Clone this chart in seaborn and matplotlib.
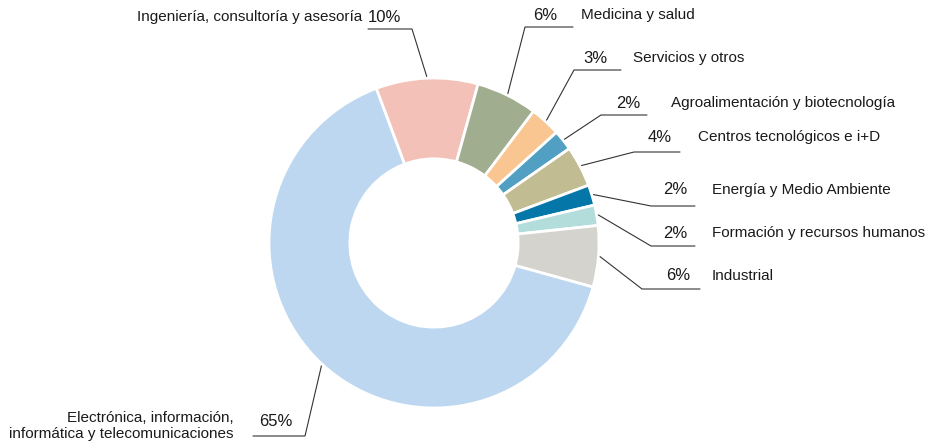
import matplotlib
matplotlib.use("Agg")
import numpy as np
import matplotlib.pyplot as plt
import seaborn as sns

# DATA
sectors = [
    "Ingeniería, consultoría y asesoría",
    "Medicina y salud",
    "Servicios y otros",
    "Agroalimentación y biotecnología",
    "Centros tecnológicos e i+D",
    "Energía y Medio Ambiente",
    "Formación y recursos humanos",
    "Industrial",
    "Electrónica, información,\ninformática y telecomunicaciones",
]
shares = [10, 6, 3, 2, 4, 2, 2, 6, 65]
pct_labels = ["10%", "6%", "3%", "2%", "4%", "2%", "2%", "6%", "65%"]

colors = ["#F4C1B8", "#A0AD8F", "#F9C591", "#51A0C4", "#C2BC92",
          "#0476A8", "#B3DDDB", "#D4D3CE", "#BDD7F0"]

# label layout (pixels): elbow x, elbow y, line end x, pct x, pct y, text x, text y
layout = [
    (412, 29, 368, 368, 17, 362, 17),
    (525, 27, 573, 557, 15, 581, 15),
    (574, 70, 621, 607, 58, 633, 58),
    (601, 115, 647, 640, 103, 671, 103),
    (634, 152, 680, 672, 137, 698, 137),
    (651, 206, 695, 687, 190, 712, 190),
    (651, 246, 695, 687, 233, 712, 233),
    (642, 289, 700, 690, 276, 712, 276),
    (305, 436, 253, 259, 422, 234, 426),
]

sns.set_theme(style="white")
plt.rcParams["font.family"] = ["Liberation Sans", "DejaVu Sans"]

W, H = 929, 447
cx, cy, R = 434, 243, 165


def to_data(x, y):
    return (x - cx) / R, (cy - y) / R


fig = plt.figure(figsize=(W / 100, H / 100), dpi=100)
ax = fig.add_axes([0, 0, 1, 1])

wedges, _ = ax.pie(shares, colors=colors, startangle=110.5, counterclock=False,
                   radius=1.0,
                   wedgeprops=dict(width=0.49, edgecolor="white", linewidth=2))

ax.set_xlim(-cx / R, (W - cx) / R)
ax.set_ylim((cy - H) / R, cy / R)
ax.set_aspect("equal")
ax.axis("off")

# leader lines + labels
for w, lab, pct, (ex, ey, lx, px, py, tx, ty) in zip(wedges, sectors, pct_labels, layout):
    mid = np.deg2rad((w.theta1 + w.theta2) / 2)
    sx, sy = 1.01 * np.cos(mid), 1.01 * np.sin(mid)
    exd, eyd = to_data(ex, ey)
    lxd, _ = to_data(lx, ey)
    ax.plot([sx, exd, lxd], [sy, eyd, eyd], color="#333333", lw=0.8,
            solid_joinstyle="miter")
    left = lx < ex
    pxd, pyd = to_data(px, py)
    txd, tyd = to_data(tx, ty)
    ax.text(pxd, pyd, pct, ha="left" if left else "right", va="center",
            fontsize=12, color="#1a1a1a")
    ax.text(txd, tyd, lab, ha="right" if left else "left", va="center",
            fontsize=11, color="#1a1a1a", linespacing=1.2,
            multialignment="right" if left else "left")

fig.savefig("out.png", dpi=100)
